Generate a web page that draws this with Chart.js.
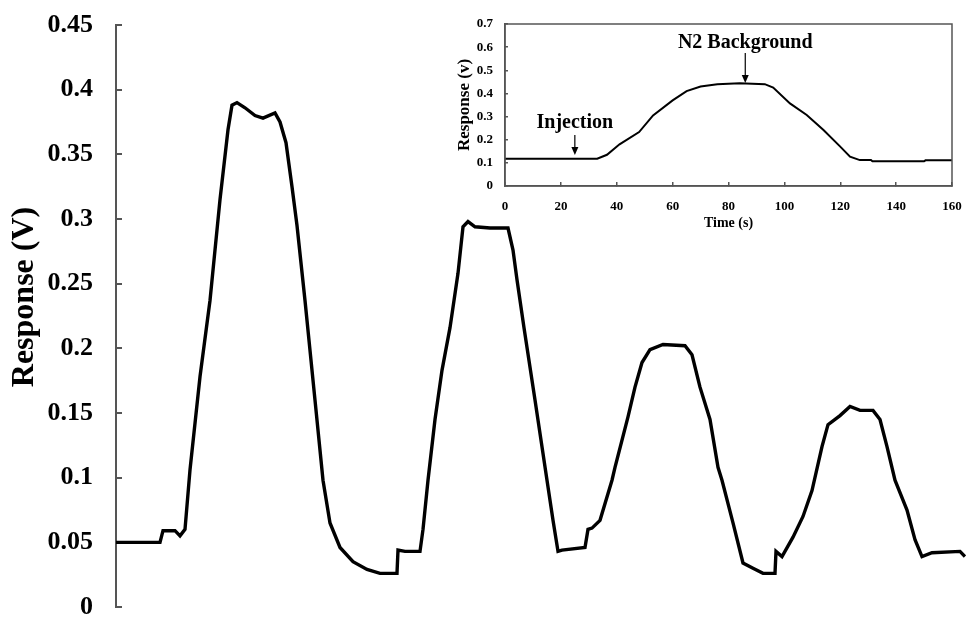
<!DOCTYPE html>
<html lang="en">
<head>
  <meta charset="UTF-8">
  <title>Sensor response</title>
  <script src="https://cdn.jsdelivr.net/npm/chart.js"></script>
  <style>
    body { margin: 0; background: #fff; }
    #wrap { position: relative; width: 971px; height: 617px; }
    #mainChart { position: absolute; left: 0; top: 0; }
    #insetChart { position: absolute; left: 440px; top: 0; }
  </style>
</head>
<body>
  <div id="wrap">
    <canvas id="mainChart" width="971" height="617"></canvas>
    <canvas id="insetChart" width="531" height="235"></canvas>
  </div>

  <script>
    // main trace: four injection cycles (x = sample index, y = volts)
    const mainTime = [
      0, 44, 47, 59, 64, 69, 74, 84, 94, 104, 112, 116, 121, 129, 139, 147, 159, 164, 170, 176,
      181, 189, 199, 207, 214, 224, 237, 251, 264, 281, 282, 289, 304, 307, 312, 319, 326, 334, 342, 347,
      352, 359, 374, 392, 397, 401, 408, 419, 431, 437, 442, 446, 469, 472, 476, 484, 496, 499, 512, 519,
      526, 534, 547, 569, 576, 584, 594, 602, 606, 617, 627, 637, 647, 659, 660, 666, 677, 687, 696, 706,
      712, 724, 734, 744, 757, 764, 771, 779, 791, 799, 806, 816, 844, 849
    ];
    const mainResponse = [
      0.050, 0.050, 0.059, 0.059, 0.055, 0.060, 0.106, 0.178, 0.237, 0.315, 0.369, 0.388, 0.390, 0.386, 0.380, 0.378, 0.382, 0.375, 0.359, 0.325,
      0.295, 0.237, 0.160, 0.098, 0.065, 0.046, 0.035, 0.029, 0.026, 0.026, 0.044, 0.043, 0.043, 0.060, 0.098, 0.145, 0.183, 0.216, 0.258, 0.294,
      0.298, 0.294, 0.293, 0.293, 0.276, 0.253, 0.216, 0.160, 0.098, 0.067, 0.043, 0.044, 0.046, 0.060, 0.061, 0.067, 0.098, 0.108, 0.147, 0.170,
      0.189, 0.199, 0.203, 0.202, 0.195, 0.170, 0.145, 0.108, 0.098, 0.065, 0.034, 0.030, 0.026, 0.026, 0.043, 0.039, 0.054, 0.070, 0.090, 0.124,
      0.141, 0.148, 0.155, 0.152, 0.152, 0.145, 0.124, 0.098, 0.075, 0.052, 0.039, 0.042, 0.043, 0.039
    ];
    const mainYTicks = ['0', '0.05', '0.1', '0.15', '0.2', '0.25', '0.3', '0.35', '0.4', '0.45'];
    const mainYTitle = 'Response (V)';

    // inset: single cycle, time in seconds
    const insetTime = [0, 33, 36.5, 41, 48, 53, 60, 65, 70, 76, 84, 93, 96, 102, 108, 114, 120, 123.5, 127, 131, 131.5, 150, 150.5, 160];
    const insetResponse = [0.118, 0.118, 0.135, 0.180, 0.233, 0.305, 0.370, 0.410, 0.430, 0.440, 0.444, 0.440, 0.425, 0.357, 0.307, 0.242, 0.170, 0.127, 0.112, 0.112, 0.107, 0.107, 0.111, 0.111];
    const insetXTicks = ['0', '20', '40', '60', '80', '100', '120', '140', '160'];
    const insetYTicks = ['0', '0.1', '0.2', '0.3', '0.4', '0.5', '0.6', '0.7'];

    // arrow annotations in inset data units
    const noteLabels = ['Injection', 'N2 Background'];
    const noteX = [25, 86];
    const noteArrowTop = [0.22, 0.575];
    const noteArrowTip = [0.134, 0.445];
    const noteTextY = [0.272, 0.618];

    const serif = '"Liberation Serif", "Times New Roman", serif';
    const axisGray = '#555';

    function toPoints(xs, ys) {
      return xs.map((x, i) => ({ x: x, y: ys[i] }));
    }

    // vertical axis title, sits a little above the middle of the plot
    const mainTitle = {
      id: 'mainTitle',
      afterDraw(chart) {
        const { ctx, chartArea } = chart;
        ctx.save();
        ctx.translate(25, (chartArea.top + chartArea.bottom) / 2 - 19);
        ctx.rotate(-Math.PI / 2);
        ctx.font = 'bold 32px ' + serif;
        ctx.fillStyle = '#000';
        ctx.textAlign = 'center';
        ctx.textBaseline = 'middle';
        ctx.fillText(mainYTitle, 0, 0);
        ctx.restore();
      }
    };

    new Chart(document.getElementById('mainChart'), {
      type: 'line',
      data: {
        datasets: [{
          data: toPoints(mainTime, mainResponse),
          borderColor: '#000',
          borderWidth: 3.4,
          pointRadius: 0,
          tension: 0,
          fill: false
        }]
      },
      options: {
        responsive: false,
        animation: false,
        devicePixelRatio: 1,
        layout: { padding: { left: 0, top: 25, right: 5, bottom: 10 } },
        plugins: { legend: { display: false }, tooltip: { enabled: false } },
        scales: {
          x: { type: 'linear', min: 0, max: 850, display: false },
          y: {
            min: 0, max: 0.45,
            afterFit: s => { s.width = 116; s.paddingTop = 0; s.paddingBottom = 0; },
            border: { color: axisGray, width: 2 },
            grid: { drawOnChartArea: false, tickLength: -6, color: axisGray, lineWidth: 2 },
            ticks: {
              stepSize: 0.05,
              padding: 29,
              color: '#000',
              font: { family: serif, size: 26, weight: 'bold' },
              callback: (v, i) => mainYTicks[i]
            }
          }
        }
      },
      plugins: [mainTitle]
    });

    // frame round the inset plus the two arrows and their captions
    const insetDecor = {
      id: 'insetDecor',
      afterDraw(chart) {
        const { ctx, chartArea, scales } = chart;
        ctx.save();
        ctx.strokeStyle = axisGray;
        ctx.lineWidth = 1.5;
        ctx.strokeRect(chartArea.left, chartArea.top, chartArea.right - chartArea.left, chartArea.bottom - chartArea.top);

        ctx.fillStyle = '#000';
        ctx.strokeStyle = '#000';
        ctx.font = 'bold 20px ' + serif;
        ctx.textAlign = 'center';
        ctx.textBaseline = 'middle';
        noteLabels.forEach((label, i) => {
          const x = scales.x.getPixelForValue(noteX[i]);
          const y0 = scales.y.getPixelForValue(noteArrowTop[i]);
          const y1 = scales.y.getPixelForValue(noteArrowTip[i]);
          ctx.lineWidth = 1.2;
          ctx.beginPath();
          ctx.moveTo(x, y0);
          ctx.lineTo(x, y1 - 5);
          ctx.stroke();
          ctx.beginPath();
          ctx.moveTo(x, y1);
          ctx.lineTo(x - 3.5, y1 - 8);
          ctx.lineTo(x + 3.5, y1 - 8);
          ctx.closePath();
          ctx.fill();
          ctx.fillText(label, x, scales.y.getPixelForValue(noteTextY[i]));
        });
        ctx.restore();
      }
    };

    new Chart(document.getElementById('insetChart'), {
      type: 'line',
      data: {
        datasets: [{
          data: toPoints(insetTime, insetResponse),
          borderColor: '#000',
          borderWidth: 2,
          pointRadius: 0,
          tension: 0,
          fill: false
        }]
      },
      options: {
        responsive: false,
        animation: false,
        devicePixelRatio: 1,
        layout: { padding: { left: 0, top: 24, right: 19, bottom: 0 } },
        plugins: { legend: { display: false }, tooltip: { enabled: false } },
        scales: {
          x: {
            type: 'linear', min: 0, max: 160,
            afterFit: s => { s.height = 49; s.paddingLeft = 0; s.paddingRight = 0; },
            border: { color: axisGray, width: 1.5 },
            grid: { drawOnChartArea: false, tickLength: -4, color: axisGray, lineWidth: 1.5 },
            ticks: {
              stepSize: 20,
              padding: 17,
              maxRotation: 0,
              color: '#000',
              font: { family: serif, size: 13, weight: 'bold' },
              callback: (v, i) => insetXTicks[i]
            },
            title: {
              display: true,
              text: 'Time (s)',
              color: '#000',
              padding: { top: 0, bottom: 3 },
              font: { family: serif, size: 14, weight: 'bold' }
            }
          },
          y: {
            min: 0, max: 0.7,
            afterFit: s => { s.width = 65; s.paddingTop = 0; s.paddingBottom = 0; },
            border: { color: axisGray, width: 1.5 },
            grid: { drawOnChartArea: false, tickLength: -3, color: axisGray, lineWidth: 1.5 },
            ticks: {
              stepSize: 0.1,
              padding: 15,
              color: '#000',
              font: { family: serif, size: 13, weight: 'bold' },
              callback: (v, i) => insetYTicks[i]
            },
            title: {
              display: true,
              text: 'Response (v)',
              color: '#000',
              padding: { top: 14, bottom: 0 },
              font: { family: serif, size: 17, weight: 'bold' }
            }
          }
        }
      },
      plugins: [insetDecor]
    });
  </script>
</body>
</html>
